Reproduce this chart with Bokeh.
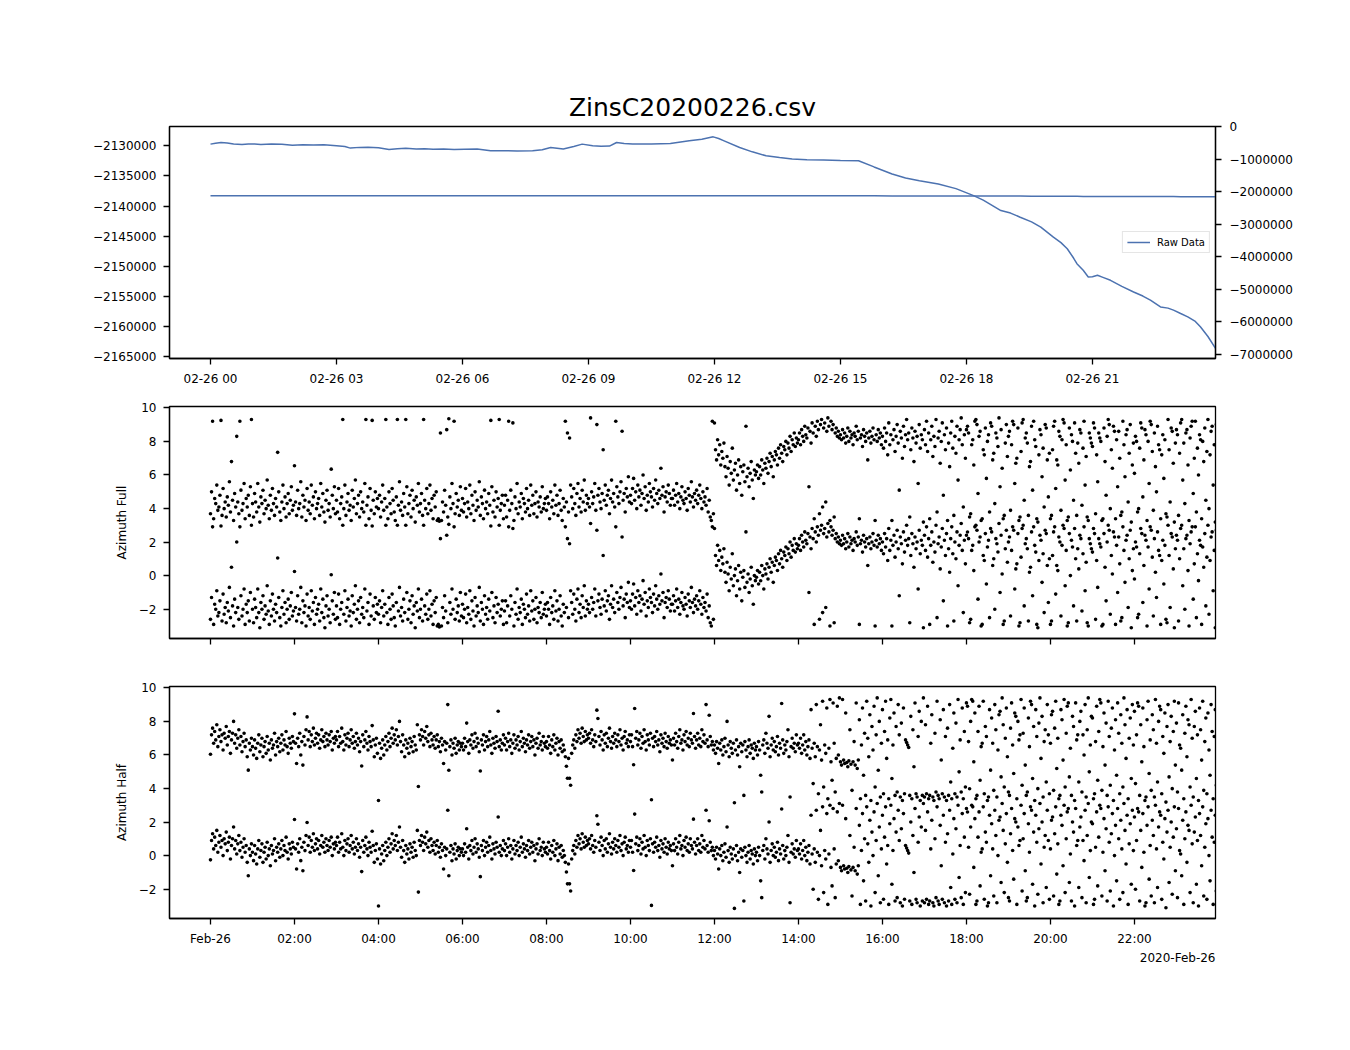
import math
from bokeh.plotting import figure
from bokeh.models import (Range1d, LinearAxis, FixedTicker, CustomJSTickFormatter,
                          Legend, LegendItem, Title)
from bokeh.layouts import column
from bokeh.embed import file_html
from bokeh.resources import INLINE

FONT = "DejaVu Sans"
TITLE = "ZinsC20200226.csv"
LINE_COLOR = "#4c72b0"

# ---------------- top panel: raw data (hours after 2020-02-26 00:00) ----------------
raw_hours = [0.00, 0.12, 0.25, 0.40, 0.55, 0.75, 0.90, 1.05, 1.20, 1.45, 1.70, 1.95, 2.20, 2.45,
             2.70, 3.00, 3.20, 3.33, 3.55, 3.75, 4.00, 4.25, 4.45, 4.65, 4.90, 5.10, 5.30, 5.55,
             5.80, 6.05, 6.35, 6.67, 7.00, 7.30, 7.67, 7.90, 8.10, 8.40, 8.65, 8.85, 9.10, 9.30,
             9.50, 9.67, 9.85, 10.05, 10.50, 10.95, 11.40, 11.70, 11.97, 12.10, 12.23, 12.60,
             12.90, 13.23, 13.55, 13.85, 14.20, 14.60, 15.00, 15.43, 15.80, 16.23, 16.55, 16.88,
             17.33, 17.75, 18.17, 18.40, 18.62, 18.82, 19.05, 19.28, 19.55, 19.77, 20.07, 20.25,
             20.40, 20.55, 20.63, 20.78, 20.90, 21.00, 21.12, 21.25, 21.43, 21.70, 21.98, 22.20,
             22.38, 22.62, 22.80, 22.93, 23.10, 23.27, 23.45, 23.57, 23.75, 23.93]
raw_values = [-2129720, -2129560, -2129455, -2129520, -2129700, -2129785, -2129690, -2129700,
              -2129790, -2129720, -2129760, -2129900, -2129830, -2129870, -2129820, -2129990,
              -2130120, -2130380, -2130260, -2130230, -2130330, -2130610, -2130480, -2130420,
              -2130540, -2130470, -2130560, -2130545, -2130600, -2130560, -2130545, -2130825,
              -2130800, -2130840, -2130825, -2130650, -2130280, -2130545, -2130100, -2129720,
              -2130000, -2130080, -2130050, -2129455, -2129600, -2129720, -2129680, -2129620,
              -2129175, -2128900, -2128515, -2128800, -2129175, -2130280, -2131000, -2131650,
              -2131950, -2132195, -2132300, -2132360, -2132420, -2132475, -2133500, -2134670,
              -2135350, -2135780, -2136325, -2137100, -2138255, -2139000, -2139905, -2140730,
              -2141150, -2141840, -2142600, -2143490, -2145140, -2146050, -2147055, -2148600,
              -2149530, -2150635, -2151740, -2151700, -2151465, -2151800, -2152290, -2153300,
              -2154220, -2154900, -2155590, -2156700, -2156900, -2157240, -2157800, -2158350,
              -2159100, -2160000, -2161600, -2163565]

left_ticks = [-2130000, -2135000, -2140000, -2145000, -2150000, -2155000, -2160000, -2165000]
right_ticks = [0, -1000000, -2000000, -3000000, -4000000, -5000000, -6000000, -7000000]
top_ticks = [0, 3, 6, 9, 12, 15, 18, 21]
top_tick_labels = ["02-26 00", "02-26 03", "02-26 06", "02-26 09", "02-26 12", "02-26 15",
                   "02-26 18", "02-26 21"]
bottom_ticks = [0, 2, 4, 6, 8, 10, 12, 14, 16, 18, 20, 22]
bottom_tick_labels = ["Feb-26", "02:00", "04:00", "06:00", "08:00", "10:00", "12:00", "14:00",
                      "16:00", "18:00", "20:00", "22:00"]
date_label = "2020-Feb-26"
az_ticks = [-2, 0, 2, 4, 6, 8, 10]

# ---------------- azimuth readings (radians, one row per hour) ----------------
az_full_by_hour = [
    [-2.6, -1.3, 2.9, -2.9, -1.7, -2.0, -0.9, -2.4, -2.2, -1.5, 2.95, -2.7, -1.1, -2.3, -1.9, -2.8, -1.6, -2.1, -0.7, -2.5, 0.5, -1.8, -3.0, -1.4, -2.2, 2.0, -1.9, -2.6, 2.9, -1.2, -2.4, -2.0, -0.8, -2.9, -1.7, -2.2, -1.5, -2.7, -1.0, 3.0],
    [-2.0, -2.8, -1.4, -1.9, -2.5, -0.8, -2.2, -3.1, -1.6, -2.0, -1.2, -2.6, -1.8, -2.3, -0.6, -2.1, -2.9, -1.5, -2.4, -1.1, -2.0, -2.7, -1.7, -2.2, 1.05, -1.3, -2.5, -3.0, -1.9, -0.9, -2.3, -1.6, -2.8, -2.0, -1.4, -2.6, -1.8, -1.0, -2.4, -2.1],
    [0.25, -1.9, -2.7, -1.2, -2.3, -2.0, -0.7, -2.8, -1.5, -2.2, -1.8, -3.0, -1.1, -2.4, -1.9, -2.6, -0.9, -2.1, -1.6, -2.9, -1.3, -2.3, -2.0, -1.7, -2.7, -0.8, -2.2, -1.4, -2.5, -3.1, -1.8, -1.2, -2.4, -2.0, -2.8, 0.05, -1.5, -2.3, -1.0, -2.6],
    [-1.8, -2.5, -1.1, -2.9, -2.0, -1.6, 3.0, -2.3, -0.9, -2.7, -1.9, -1.4, -2.4, -2.1, -3.0, -1.2, -2.2, -1.7, -0.6, -2.6, -2.0, -1.5, -2.8, -1.3, -2.3, -1.9, -2.5, -0.8, 3.0, -2.1, -1.6, -2.9, -1.1, -2.4, 2.95, -1.8, -2.6, -1.3, -2.2, -1.7],
    [-2.3, -1.5, -2.8, -1.9, -0.9, -2.4, -1.7, 3.0, -2.2, -2.9, -1.3, -2.0, -2.6, -1.1, -1.8, -2.5, -3.0, -1.6, 3.0, -2.1, -0.7, -2.4, -1.9, -2.7, -1.4, -2.2, 3.0, -1.0, -2.6, -2.0, -1.5, -2.8, -1.2, -2.3, -1.8, -3.1, -1.6, -2.1, -0.8, -2.5],
    [-2.0, -1.4, -2.7, 3.0, -1.8, -2.3, -1.1, -2.6, -2.0, -0.9, -2.4, -1.7, -2.9, -1.5, -2.2, -1.3, -3.0, -2.9, -3.05, 2.2, -3.0, -1.9, -2.5, -1.2, -2.1, 2.4, -2.8, 3.05, -1.6, -2.3, -0.8, -2.0, 2.9, -2.6, -1.4, -2.2, -1.8, -2.7, -1.0, -2.4],
    [-1.7, -2.5, -2.0, -1.1, -2.8, -1.9, -2.3, -0.9, -2.6, -1.5, -2.1, -3.0, -1.3, -2.4, -1.8, -2.2, -0.7, -2.7, -1.6, -2.0, -2.9, -1.2, -2.3, -1.9, -2.6, -1.4, -2.1, 2.95, -1.0, -2.5, -1.8, -2.8, -1.3, -2.2, -1.7, 3.0, -2.4, -2.0, -1.5, -2.9],
    [-2.1, -1.5, -2.8, -1.8, 2.9, -2.4, -1.2, -2.0, 2.8, -3.0, -1.6, -2.3, -0.8, -2.6, -1.9, -2.2, -1.4, -2.9, -1.7, -2.0, -2.5, -1.1, -2.3, -1.8, -2.7, -0.9, -2.1, -1.5, -2.6, -2.0, -1.3, -2.8, -1.9, -2.2, -1.6, -2.5, -1.0, -2.3, -2.0, -1.7],
    [-2.4, -1.6, -2.0, -2.9, -1.3, -2.2, -1.8, -2.6, -0.9, -2.1, -1.5, -2.7, -2.0, -1.2, -2.4, -3.0, -1.7, -2.2, 2.9, -1.9, 2.2, -2.5, 1.9, -0.9, -1.6, -2.3, -1.1, -2.0, -2.7, -1.4, -0.8, -2.2, -1.7, -2.5, -1.2, -1.9, -0.6, -2.4, -1.5, -2.0],
    [-1.7, -2.2, 3.1, -1.3, -2.0, -1.6, -0.8, -2.4, 2.7, -1.5, -1.1, -1.9, -2.3, -1.4, 1.2, -1.8, -0.9, -2.1, -1.5, -1.2, -2.6, -1.7, -0.6, -1.9, -1.4, -2.2, 2.9, -1.0, -1.6, -2.0, -1.3, -0.7, 2.3, -1.8, -1.4, -2.5, -1.1, -1.6, -0.4, -1.9],
    [-1.5, -2.0, -1.1, -0.5, -1.8, -1.3, -2.3, -0.9, -1.6, -1.2, -2.1, -1.4, -0.3, -1.7, -1.0, -2.4, -1.5, -1.9, -0.8, -1.3, -1.6, -2.2, -1.1, -1.8, -0.6, -1.4, -2.0, -1.2, -1.7, 0.1, -1.5, -1.0, -2.5, -1.6, -1.3, -1.9, -0.9, -1.4, -2.1, -1.7],
    [-1.7, -1.2, -2.1, -1.5, -0.8, -1.9, -1.4, -2.3, -1.6, -1.0, -1.8, -2.0, -1.3, -1.7, -2.4, -1.1, -1.5, -1.9, -0.7, -1.6, -2.2, -1.4, -1.8, -1.2, -2.0, -1.5, -0.9, -1.7, -2.3, -1.3, -1.9, -1.6, -2.1, -1.1, -2.5, -1.8, -2.8, -3.0, 2.9, -2.6],
    [2.8, 1.2, 0.6, 1.8, 0.9, 1.5, 0.3, 1.1, 0.7, 1.6, 0.2, -0.4, 0.8, 0.1, -0.9, 0.5, -0.2, 1.3, -0.6, 0.0, 0.4, -1.2, -0.3, 0.6, -0.8, 0.2, -1.5, -0.1, 0.3, -0.7, 2.6, -0.4, 0.1, -1.0, -0.2, 0.5, -0.6, -1.7, 0.0, -0.3],
    [-0.1, 0.3, -0.5, 0.2, -0.3, 0.6, 0.0, -0.8, 0.4, 0.1, 0.7, -0.2, 0.5, 1.0, 0.2, 0.8, -0.4, 0.6, 1.1, 0.9, 0.3, 1.3, 0.7, 1.5, 1.0, 0.5, 1.4, 1.2, 1.7, 0.9, 1.6, 1.3, 2.0, 1.1, 1.8, 1.5, 2.2, 1.4, 1.9, 1.6],
    [1.8, 2.2, 1.5, 2.4, 2.0, 1.7, 2.6, 2.1, 1.9, 2.5, -1.0, 2.3, 1.6, 2.8, 2.2, -2.9, 2.6, 2.0, 2.9, 2.4, -2.6, 2.7, 3.0, -2.2, 2.5, 2.8, -1.9, 2.3, 3.1, 2.6, -3.0, 2.9, 2.4, 2.7, -2.8, 2.2, 2.5, 2.0, 2.3, 1.9],
    [2.1, 1.8, 2.4, 1.9, 2.2, 1.6, 2.0, 2.5, 1.7, 2.3, 1.9, 2.1, 1.5, 2.2, 2.0, 2.6, 1.8, 2.3, -2.9, 1.9, 2.1, 1.4, 2.4, 2.0, 1.7, 2.2, 0.6, 1.9, 2.3, 1.6, 2.0, 2.5, 1.8, -3.0, 2.1, 1.7, 2.4, 1.9, 2.2, 1.5],
    [2.0, 1.3, 2.5, 1.7, 2.2, 0.9, 2.8, 1.5, 2.1, -3.0, 1.8, 2.4, 1.1, 2.0, 2.7, 1.6, -1.2, 2.3, 1.9, 0.7, 2.6, 1.4, 2.1, 3.0, 1.8, 2.2, -2.8, 1.2, 2.5, 1.9, 0.5, 2.3, 1.6, 2.0, -0.8, 2.7, 1.3, 2.1, 1.8, -3.1],
    [2.4, 1.5, 2.9, 1.1, 2.2, -2.9, 1.8, 2.6, 0.8, 2.0, 1.4, 3.0, -2.5, 1.9, 2.3, 0.4, 1.7, 2.8, -1.5, 2.1, 1.2, 2.5, -3.0, 1.6, 0.2, 2.2, 2.9, 1.3, -2.7, 2.0, 1.0, 2.6, -0.6, 1.8, 2.4, 3.1, 1.5, -2.2, 2.1, 0.7],
    [2.4, 2.6, 2.2, -2.8, -2.6, 1.5, 1.8, 0.3, 2.9, 3.0, 2.7, -1.4, 2.0, 2.3, -3.0, -2.9, 1.2, 0.9, 2.5, -0.5, 1.7, 2.1, -2.5, 2.8, 2.6, 0.6, 1.0, -2.0, 2.2, 1.9, 1.4, 3.1, -1.0, 2.4, 0.1, -2.9, -2.7, 1.6, 2.7, 0.8],
    [2.0, 2.3, -2.4, 1.5, 2.9, 2.7, -0.8, 0.4, 0.7, 2.5, -3.0, -2.8, 1.1, 2.8, 3.0, -1.8, 1.9, 2.2, 1.6, -2.7, 0.2, 0.5, 2.6, -1.2, 2.9, 1.8, 1.4, -2.9, -3.1, 0.9, 2.4, 2.1, -0.4, 1.3, -2.2, 2.7, 2.5, 0.6, -1.6, 1.0],
    [-2.9, -2.7, 1.2, 2.6, 2.9, -1.1, 0.6, 0.3, 2.3, 2.0, -2.4, 1.8, 3.0, 2.8, -0.6, 1.5, -3.0, -2.8, 2.5, 0.0, 2.1, 1.7, -1.8, 2.8, 1.0, -2.7, 1.6, 0.4, 2.4, 2.2, -2.1, 1.3, 2.9, -0.9, 0.8, -2.8, -3.0, 2.2, 1.9, 1.6],
    [1.4, 2.8, 2.5, -2.6, 0.9, -0.7, 2.2, 1.9, 1.7, -3.0, -2.9, 2.5, 0.5, -1.5, 2.0, 3.0, 2.7, -2.3, 1.2, 0.1, 2.6, 2.3, -2.9, 1.8, -1.0, 2.3, 0.7, -2.7, -2.5, 2.9, 1.5, -0.4, 2.1, 2.4, -1.9, 1.0, 2.7, -3.1, 0.3, 1.6],
    [-0.2, 2.0, 1.7, -2.5, -2.3, 1.3, 2.8, 2.5, -1.6, 0.6, 2.4, 2.1, -3.0, 1.7, -0.8, 2.9, 2.7, 1.1, -2.4, 2.2, 0.2, -1.3, 2.6, 1.5, 1.2, -2.9, 0.9, 2.1, -0.5, 1.8, -2.6, -2.8, 3.0, 1.2, -1.9, 2.5, 2.3, 0.4, -3.1, 1.6],
    [2.4, 2.1, -2.7, 1.0, 2.8, 3.0, -0.6, 1.6, -2.0, 2.2, 2.4, 0.3, -3.0, 1.9, 2.6, 2.9, -1.4, 0.7, 2.9, -2.5, 1.3, -0.3, 2.1, 1.8, -2.9, 1.7, 0.5, 2.5, -1.8, 1.1, 3.0, -2.3, 0.9, 2.3, 2.6, -0.9, 1.5, -3.1, 2.7, 1.2],
]

az_half_by_hour = [
    [-0.25, 0.9, 1.3, 0.4, 1.1, 0.6, 1.5, 0.2, 0.8, 1.2, 0.5, 0.9, 0.0, 1.0, 0.7, 1.4, 0.3, 0.8, 1.1, -0.2, 0.6, 1.0, 1.7, 0.4, 0.9, 0.1, 0.7, 1.2, 0.3, 0.8, -0.1, 0.5, 1.0, 0.2, 0.6, -0.4, -1.2, 0.4, 0.0, 0.7],
    [0.2, -0.3, 0.6, 0.1, -0.5, 0.4, 0.9, -0.1, 0.3, 0.7, -0.4, 0.2, 0.5, -0.2, 0.8, 0.0, 0.4, -0.6, 0.6, 0.1, 0.3, 1.0, -0.3, 0.5, 0.2, 0.7, -0.1, 0.4, 0.9, 0.0, 0.6, 0.3, 1.1, 0.2, -0.2, 0.7, 0.4, 0.1, 0.8, 0.5],
    [2.15, 0.4, -0.8, 0.7, 0.2, 1.0, -0.3, 0.5, -0.9, 0.8, 0.3, 1.2, 1.97, 0.6, 1.1, 0.2, 0.9, 0.5, 1.3, 0.3, 0.7, 1.0, 0.4, 0.9, 0.1, 0.6, 1.2, 0.5, 0.8, 0.2, 1.0, 0.6, 0.3, 0.9, 0.5, 1.1, 0.0, 0.7, 0.4, 0.8],
    [0.6, 1.1, 0.2, 0.8, 0.4, 1.3, 0.5, 0.0, 0.9, 0.3, 0.7, 1.0, 0.2, 0.6, 1.2, 0.4, 0.8, 0.1, 0.5, 1.0, 0.3, 0.7, -0.1, 0.5, -0.95, 0.9, 0.2, 0.6, 1.1, 0.4, 0.0, 0.8, 0.5, 0.2, 1.45, 0.6, -0.4, 0.3, 0.7, -0.2],
    [-3.0, 0.4, -0.5, 0.1, 0.6, -0.3, 0.3, 0.8, 0.0, 0.5, 1.0, 0.2, 0.7, 1.3, 0.4, 0.9, 0.6, 1.2, 0.3, 0.8, 1.7, 0.5, -0.1, 0.9, 0.3, -0.4, 0.6, 0.1, 0.4, -0.2, 0.7, 0.2, 0.5, -0.1, 0.8, 0.3, 0.0, 1.5, -2.17, 0.9],
    [0.6, 1.2, 0.8, 0.3, 1.1, 0.7, 1.4, 0.5, 0.9, 0.2, 1.0, 0.6, 0.3, 0.8, 0.1, 0.6, 0.9, 0.2, 0.5, -0.1, 0.7, 0.3, -0.8, 0.5, 0.0, 0.4, 2.7, -1.2, 0.2, 0.6, -0.3, 0.4, 0.1, 0.7, -0.2, 0.3, 0.5, 0.0, 0.4, 0.2],
    [0.4, 0.0, 0.7, 0.2, 1.6, 0.5, -0.2, 0.6, 0.3, 0.9, 0.1, 0.5, 1.0, 0.2, 0.7, 0.4, -0.1, -1.25, 0.6, 0.3, 0.9, 0.0, 0.5, 0.8, 0.2, 0.6, 1.1, 0.3, -0.2, 0.7, 0.4, 0.1, 0.8, 0.5, 2.3, 0.2, 0.6, 0.0, 0.4, 0.9],
    [0.3, 0.7, 0.0, 0.5, 1.0, 0.2, 0.6, -0.2, 0.4, 0.9, 0.1, 0.6, 0.3, 0.8, 0.0, 0.5, 1.1, 0.2, 0.7, 0.4, -0.1, 0.6, 0.3, 0.9, 0.1, 0.5, 0.8, 0.2, 0.6, -0.3, 0.4, 0.7, 0.1, 1.0, 0.3, 0.5, 0.0, 0.8, 0.4, 0.2],
    [0.5, 0.1, 0.8, 0.3, -0.2, 0.6, 0.2, 0.9, 0.0, 0.4, 0.7, -0.3, 0.5, 0.1, 0.6, -0.1, 0.3, 0.0, -0.4, -0.97, -1.68, -0.5, -1.68, -2.1, -0.2, 0.3, 0.6, 0.1, 0.9, 0.5, 1.2, 0.7, 1.0, 0.4, 1.3, 0.8, 0.5, 1.1, 0.6, 0.9],
    [0.7, 1.0, 0.4, 1.2, 0.6, 0.2, 0.9, 0.5, 2.37, 1.87, 0.8, 0.3, 1.1, 0.6, 0.0, 0.9, 0.4, 1.0, 0.2, 0.7, 1.3, 0.5, 0.1, 0.8, 0.4, 1.0, 0.6, 0.2, 0.9, 0.5, 1.2, 0.3, 0.7, 0.0, 0.8, 1.1, 0.4, 0.6, 0.2, 0.9],
    [0.5, 0.9, 0.2, -0.88, 2.47, 0.7, 1.1, 0.3, 0.6, 1.0, 0.1, 0.8, 0.4, 1.2, 0.5, 0.0, 0.9, 0.6, 0.3, 1.0, -2.96, 0.7, 0.2, 0.8, 0.5, 1.1, 0.3, 0.6, -0.1, 0.9, 0.4, 0.7, 0.2, 1.0, 0.5, 0.1, 0.8, 0.4, 0.6, 0.3],
    [-0.6, 0.7, 0.3, 1.0, 0.5, 0.1, 0.8, 1.2, 0.4, 0.6, 0.0, 0.9, 0.5, 1.1, 0.3, 0.7, 0.2, 1.0, 0.6, 0.4, 2.17, 0.8, 0.1, 0.6, 1.0, 0.3, 0.7, 0.2, 1.2, 0.5, 0.9, 0.4, 2.7, 0.6, 0.2, 2.07, 0.8, 0.3, 0.5, 0.0],
    [0.3, -0.2, 0.5, 0.1, -0.8, 0.4, 0.0, 0.6, -0.3, 0.2, 0.7, -0.1, 1.7, 0.3, -0.4, 0.5, 0.1, -0.2, 0.4, -3.14, 0.0, 0.6, -0.3, 0.2, -1.0, 0.4, -0.1, 0.3, -2.7, 0.5, 0.0, -0.4, 0.2, 0.6, -0.2, 0.3, 0.1, -0.5, 0.4, 0.0],
    [0.2, -0.3, 0.5, 0.0, -1.5, -2.5, 0.3, 0.6, -0.2, 1.0, 0.4, 0.1, 2.0, -0.4, 0.3, 0.7, 0.0, 0.5, -0.1, 0.2, 0.8, -0.3, 0.4, 0.1, 2.77, 0.6, -0.2, 0.3, 0.0, 0.5, 1.2, -0.4, -2.8, 0.2, 0.7, 0.1, 0.4, -0.1, 0.9, 0.3],
    [0.4, 0.1, 0.7, -0.2, 0.3, 0.9, 0.0, 0.5, -0.3, 0.2, 0.6, -0.5, 2.4, 0.1, -2.0, 0.4, -0.4, 2.7, 0.2, -2.6, 0.0, 1.5, -0.6, 2.9, -2.2, 0.3, -0.2, 2.5, -2.9, 0.1, 3.0, -0.7, -1.8, 2.8, 0.4, -2.5, -0.5, 2.6, -0.3, 3.1],
    [-0.7, -0.9, 3.0, -0.6, -0.8, 2.2, -0.75, -1.0, -0.65, 1.2, -0.85, -2.4, -0.7, 0.5, -0.9, 2.8, -1.1, -0.6, 1.8, -2.9, 0.3, 2.5, -1.5, 1.0, -2.7, 2.9, 0.7, -0.4, 2.1, -3.0, 1.4, 0.0, 2.6, -2.2, 0.9, 3.1, -1.2, 1.7, -2.8, 0.4],
    [2.4, -2.6, 1.1, 2.9, -0.5, 0.6, -2.9, 1.9, 3.0, -1.7, 0.3, 2.2, -2.7, 1.4, -2.5, 2.7, 0.9, -2.8, 1.6, -3.0, 2.5, -2.6, 0.6, 0.45, 0.3, 0.15, -2.7, 2.0, -2.9, 1.2, -1.0, 2.8, -2.6, -2.8, 0.8, 2.3, -3.0, 1.7, -2.7, 3.1],
    [-2.8, 1.5, -2.6, 2.6, -2.9, -2.7, 0.4, 2.1, -2.8, -3.0, 1.0, -2.5, 2.9, -2.7, -2.9, 1.8, -0.6, -2.6, 2.4, -2.8, 0.8, -3.0, 1.3, -2.7, 2.7, -1.9, -2.9, 0.1, 2.2, -2.6, 1.6, -2.8, 3.0, -1.3, 0.6, -2.5, 2.5, -2.9, 1.1, -2.2],
    [2.8, 2.6, 0.5, -2.3, 1.7, 3.0, 2.9, -0.7, 2.2, -2.9, -2.7, 1.1, 2.6, -1.8, 0.2, 0.4, 2.9, -2.6, 1.4, 0.8, -3.0, -2.8, 2.4, -1.2, 1.9, 0.4, -2.4, 2.7, 1.2, -2.8, 0.0, 2.1, 2.3, -1.6, 3.1, 1.5, -2.2, 0.7, 2.5, -0.4],
    [-2.5, -2.7, 1.3, 2.8, 0.3, -1.4, 2.2, 2.0, -2.9, 1.7, 0.6, 0.9, 3.0, -2.1, 1.0, 2.5, -0.9, -2.7, -2.5, 1.9, 0.2, 2.9, 2.7, -1.7, 1.4, -3.0, 2.4, 0.8, -2.3, 1.6, 3.1, -0.5, 2.0, -2.8, 0.5, 1.2, -1.9, 2.7, 0.9, -2.6],
    [0.4, 2.1, 2.3, -2.4, 1.3, 2.9, -1.1, 0.7, -2.9, -2.7, 2.4, 1.8, -0.6, 3.0, -2.2, 1.0, 2.6, 2.8, -1.6, 0.1, -2.7, 2.0, 1.4, -3.0, 2.8, 0.6, 0.9, -1.9, 1.7, 2.3, -2.5, 0.9, -0.3, 2.7, -2.8, 1.2, 3.1, -1.3, 0.3, 2.0],
    [1.9, -2.9, -2.6, 0.5, 2.6, -1.8, 1.1, 3.0, 2.8, -2.4, 0.2, 2.2, -0.9, 1.6, -2.7, 2.9, 0.8, -2.1, 1.3, 2.5, -3.0, 0.0, 1.8, -1.5, 2.8, 1.0, -2.6, 2.1, 0.4, -2.2, 3.1, 1.5, -0.5, 2.4, -2.9, 0.7, 1.9, -1.7, 2.7, 0.3],
    [2.3, -2.0, 0.9, 2.8, 2.6, -2.7, 1.5, -0.7, 2.5, 0.2, -3.0, -2.8, 1.8, 2.9, -1.4, 0.6, -2.4, 2.1, 1.2, -2.8, 3.0, 0.4, -1.9, 1.7, 2.6, 2.4, -2.6, 0.8, -0.2, 2.2, -3.1, 1.4, 2.7, -1.6, 0.5, 2.0, -2.3, 1.1, 2.9, -0.9],
    [1.6, -2.5, 2.8, 0.3, 0.1, -1.2, 2.1, -2.9, 1.0, 2.6, -0.4, 1.8, 1.5, -2.2, 3.0, 0.7, -2.8, 1.4, 2.3, -1.7, 0.9, -3.0, 2.5, 1.2, -0.6, 2.9, -2.4, 0.5, 1.9, -2.6, 2.2, 0.0, -1.5, 2.7, 1.1, -2.9, 0.8, 2.4, -2.1, 1.6],
]


def expand(by_hour):
    """Flatten hourly rows into (time in hours, angle) pairs, evenly spaced within each hour."""
    xs, ys = [], []
    for h, vals in enumerate(by_hour):
        for i, v in enumerate(vals):
            xs.append(h + i / len(vals))
            ys.append(v)
    return xs, ys


def wrapped_copies(xs, ys):
    """Each angle is drawn at its value and one full turn (2*pi) above."""
    return xs + xs, ys + [v + 2 * math.pi for v in ys]


minus_fmt = CustomJSTickFormatter(code="return (tick < 0 ? '\\u2212' : '') + Math.abs(tick).toFixed(0);")


def label_fmt(tick_values, tick_texts):
    return CustomJSTickFormatter(args=dict(tvals=tick_values, ttexts=tick_texts),
                                 code="const i = tvals.indexOf(tick); return i >= 0 ? ttexts[i] : '';")


def style_axis(ax, standoff=7):
    ax.axis_line_color = "black"
    ax.axis_line_width = 1.3
    ax.major_tick_line_color = "black"
    ax.major_tick_line_width = 1.3
    ax.major_tick_out = 6
    ax.major_tick_in = 0
    ax.minor_tick_line_color = None
    ax.major_label_text_font = FONT
    ax.major_label_text_font_size = "12px"
    ax.major_label_text_color = "black"
    ax.major_label_standoff = standoff
    ax.axis_label_text_font = FONT
    ax.axis_label_text_font_size = "12px"
    ax.axis_label_text_font_style = "normal"
    ax.axis_label_text_color = "black"
    ax.axis_label_standoff = 7


LEFT, RIGHT, FRAME_W = 169, 127, 1046


def base_fig(height, top, bottom, y_range, title=None):
    p = figure(width=LEFT + FRAME_W + RIGHT, height=height, x_range=x_rng, y_range=y_range,
               title=title, output_backend="svg", toolbar_location=None,
               min_border_left=LEFT, min_border_right=RIGHT,
               min_border_top=top, min_border_bottom=bottom)
    p.xgrid.visible = False
    p.ygrid.visible = False
    p.outline_line_color = "black"
    p.outline_line_width = 1.3
    p.outline_line_alpha = 1.0
    p.background_fill_color = "white"
    p.border_fill_color = "white"
    return p


x_rng = Range1d(-0.976, 23.93)

# ---------------- top figure ----------------
p1 = base_fig(390, 126, 32, Range1d(-2165250, -2126800), title=TITLE)
p1.title.align = "center"
p1.title.text_font = FONT
p1.title.text_font_size = "25px"
p1.title.text_font_style = "normal"
p1.title.text_color = "black"
p1.title.standoff = 9
p1.extra_y_ranges = {"right": Range1d(-7138000, 0)}

l1 = p1.line(raw_hours, raw_values, line_color=LINE_COLOR, line_width=1.5)
l2 = p1.line(raw_hours, raw_values, line_color=LINE_COLOR, line_width=1.5, y_range_name="right")

style_axis(p1.xaxis[0], standoff=7)
p1.xaxis[0].ticker = FixedTicker(ticks=top_ticks)
p1.xaxis[0].formatter = label_fmt(top_ticks, top_tick_labels)
style_axis(p1.yaxis[0], standoff=7)
p1.yaxis[0].ticker = FixedTicker(ticks=left_ticks)
p1.yaxis[0].formatter = minus_fmt

ax_r = LinearAxis(y_range_name="right", ticker=FixedTicker(ticks=right_ticks), formatter=minus_fmt)
style_axis(ax_r, standoff=8)
p1.add_layout(ax_r, "right")

legend = Legend(items=[LegendItem(label="Raw Data", renderers=[l1])], location="center_right",
                margin=5, padding=4, spacing=0, glyph_width=23, glyph_height=12, label_height=12,
                label_standoff=7, label_text_font=FONT, label_text_font_size="10px",
                label_text_color="black", border_line_color="#cccccc", border_line_width=1,
                background_fill_color="white", background_fill_alpha=0.8)
p1.add_layout(legend)

# ---------------- azimuth figures ----------------
AZ_RANGE = (-3.74, 10.06)


def az_fig(height, top, bottom, by_hour, ylabel, show_labels):
    p = base_fig(height, top, bottom, Range1d(*AZ_RANGE))
    xs, ys = wrapped_copies(*expand(by_hour))
    p.scatter(xs, ys, marker="circle", size=3.6, fill_color="black", line_color=None)
    style_axis(p.xaxis[0], standoff=7 if show_labels else 0)
    p.xaxis[0].ticker = FixedTicker(ticks=bottom_ticks)
    if show_labels:
        p.xaxis[0].formatter = label_fmt(bottom_ticks, bottom_tick_labels)
    else:
        p.xaxis[0].formatter = CustomJSTickFormatter(code="return '';")
        p.xaxis[0].major_label_text_font_size = "0px"
    style_axis(p.yaxis[0], standoff=7)
    p.yaxis[0].ticker = FixedTicker(ticks=az_ticks)
    p.yaxis[0].formatter = minus_fmt
    p.yaxis[0].axis_label = ylabel
    return p


p2 = az_fig(272, 16, 24, az_full_by_hour, "Azimuth Full", False)
p3 = az_fig(330, 24, 74, az_half_by_hour, "Azimuth Half", True)
p3.add_layout(Title(text=date_label, align="right", text_font=FONT, text_font_size="12px",
                    text_font_style="normal", text_color="black", standoff=1), "below")

layout = column(p1, p2, p3, spacing=0)
open("out.html", "w").write(file_html(layout, INLINE))
